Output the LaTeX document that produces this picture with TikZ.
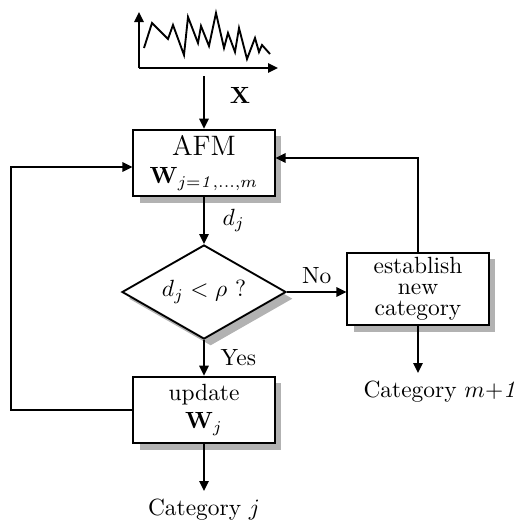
\documentclass[tikz,border=0pt]{standalone}
\usetikzlibrary{positioning,arrows.meta,shapes.geometric,shadows}

\begin{document}
\begin{tikzpicture}[
  shade/.style={drop shadow={shadow xshift=0.1cm,shadow yshift=-0.1cm,fill=gray!60,opacity=1}},
  box/.style={draw=black,thick,fill=white,shade,align=center,minimum width=2.12cm,minimum height=1.0cm,inner sep=2pt},
  decision/.style={diamond,draw=black,thick,fill=white,shade,minimum width=2.46cm,minimum height=1.41cm,inner sep=0pt,aspect=1.74},
  lbl/.style={font=\normalsize},
  arrow/.style={-{Triangle[length=1.5mm,width=1.4mm]},thick}
]
\useasboundingbox (0,0) rectangle (7.83,-7.905);
\draw[arrow] (2.085,-1.02) -- (2.085,-0.18);
\draw[arrow] (2.085,-1.02) -- (4.17,-1.02);
\draw[thick,line join=miter] (2.16,-0.72) -- (2.28,-0.345) -- (2.52,-0.585) -- (2.595,-0.375) -- (2.76,-0.825) -- (2.82,-0.255) -- (2.97,-0.645) -- (3.015,-0.39) -- (3.135,-0.69) -- (3.24,-0.195) -- (3.36,-0.72) -- (3.42,-0.495) -- (3.525,-0.78) -- (3.585,-0.42) -- (3.705,-0.885) -- (3.825,-0.57) -- (3.885,-0.78) -- (3.93,-0.675) -- (4.05,-0.81);
\coordinate (sig) at (3.06,-1.14);
\node[lbl] (xin) at (3.6,-1.425) {$\mathbf{X}$};
\node[box] (afm) at (3.06,-2.445) {{\large AFM}\\$\mathbf{W}_{j=\mathit{1},\ldots,m}$};
\node[decision] (dec) at (3.06,-4.38) {$d_j<\rho$ ?};
\node[box] (est) at (6.27,-4.335) {establish\\[-3pt]new\\[-3pt]category};
\node[box] (upd) at (3.06,-6.15) {update\\$\mathbf{W}_j$};
\node[lbl] (catm) at (6.615,-5.88) {Category $m{+}\mathit{1}$};
\node[lbl] (catj) at (3.06,-7.65) {Category $j$};
\coordinate (lp) at (0.165,-6.15);
\draw[arrow] (sig) -- (afm.north);
\draw[arrow] (afm) -- node[lbl,right=0.15cm] {$d_j$} (dec);
\draw[arrow] (dec.east) -- node[lbl,above] {No} (dec.east -| est.west);
\draw[arrow] (dec) -- node[lbl,right=0.12cm] {Yes} (upd);
\draw[arrow] (est.north) |- ([yshift=0.075cm]afm.east);
\draw[arrow] (upd.west) -- (lp) |- ([yshift=-0.06cm]afm.west);
\draw[arrow] (est.south) -- (est.south |- catm.north);
\draw[arrow] (upd.south) -- (catj.north);
\end{tikzpicture}
\end{document}
